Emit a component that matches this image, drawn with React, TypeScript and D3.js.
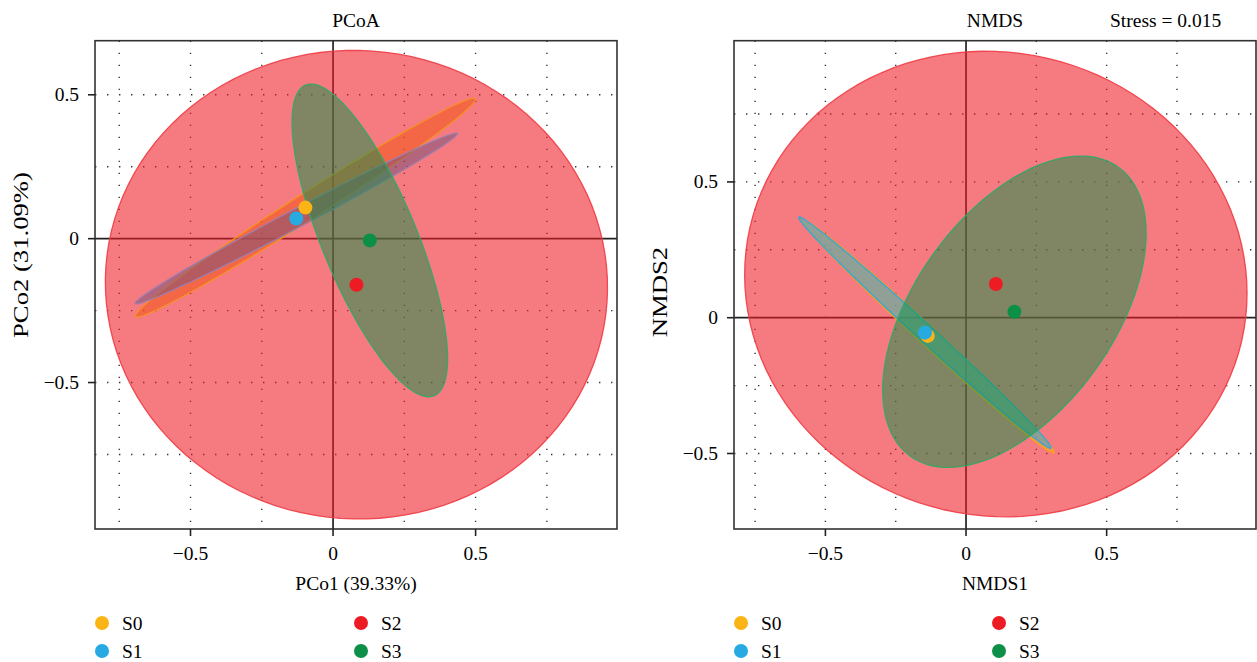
import React from "react";
import * as d3 from "d3";

const groups = ["S0", "S1", "S2", "S3"];
const pointColors = ["#fbb416", "#27aae1", "#ed1c24", "#0c9048"];

// PCoA centroids and ellipse shape (data units, angle in degrees)
const pcoaX = [-0.097, -0.129, 0.082, 0.129];
const pcoaY = [0.108, 0.07, -0.16, -0.006];
const pcoaSemiA = [0.706, 0.638, 0.881, 0.585];
const pcoaSemiB = [0.046, 0.032, 0.814, 0.166];
const pcoaAngle = [32.4, 27.6, -4, -67.3];

// NMDS
const nmdsX = [-0.136, -0.146, 0.106, 0.172];
const nmdsY = [-0.067, -0.055, 0.124, 0.022];
const nmdsSemiA = [0.622, 0.618, 0.9, 0.648];
const nmdsSemiB = [0.034, 0.03, 0.85, 0.358];
const nmdsAngle = [-43.8, -43.5, -22, 56];

const axisTicks = [-0.5, 0, 0.5];
const gridX = [-0.75, -0.5, -0.25, 0.25, 0.5, 0.75];
const pcoaGridY = [-0.75, -0.5, -0.25, 0.25, 0.5];
const nmdsGridY = [-0.5, -0.25, 0.25, 0.5, 0.75];

const pcoaFill = ["#f15a22", "#73507c", "#ed1c24", "#0c9048"];
const pcoaFillOpacity = [0.6, 0.5, 0.58, 0.5];
const pcoaStroke = ["#f7941d", "#9b7fb0", "#ef3b44", "#2fa866"];
const nmdsFill = ["#fbb416", "#27aae1", "#ed1c24", "#0c9048"];
const nmdsFillOpacity = [0.5, 0.5, 0.58, 0.5];
const nmdsStroke = ["#f7a21b", "#29a9e0", "#ef3b44", "#2fa866"];

const drawOrder = [2, 0, 1, 3];
const font = "'Liberation Serif', 'Times New Roman', serif";
const fmt = (v) => (v === 0 ? "0" : d3.format(".1f")(v));

const ellipsePoints = (cx, cy, a, b, deg) => {
  const phi = (deg * Math.PI) / 180;
  return d3.range(0, 360, 3).map((t) => {
    const r = (t * Math.PI) / 180;
    return [
      cx + a * Math.cos(r) * Math.cos(phi) - b * Math.sin(r) * Math.sin(phi),
      cy + a * Math.cos(r) * Math.sin(phi) + b * Math.sin(r) * Math.cos(phi),
    ];
  });
};

const Panel = ({ box, xDomain, yDomain, gridY, xs0, ys0, semiA, semiB, angle, fill, fillOpacity, stroke, title, xLabel, yLabel, yLabelPos }) => {
  const x = d3.scaleLinear().domain(xDomain).range([box.left, box.right]);
  const y = d3.scaleLinear().domain(yDomain).range([box.bottom, box.top]);
  const line = d3.line().x((d) => x(d[0])).y((d) => y(d[1])).curve(d3.curveLinearClosed);
  const cxm = (box.left + box.right) / 2;

  return (
    <g>
      <text x={cxm} y={27} textAnchor="middle" fontSize={19.5}>{title}</text>
      {/* grid and zero lines sit under the translucent ellipses */}
      {gridX.map((v) => (
        <line key={"gx" + v} x1={x(v)} x2={x(v)} y1={box.top} y2={box.bottom} stroke="#333" strokeWidth={1.4} strokeDasharray="1.4 10.6" />
      ))}
      {gridY.map((v) => (
        <line key={"gy" + v} y1={y(v)} y2={y(v)} x1={box.left} x2={box.right} stroke="#333" strokeWidth={1.4} strokeDasharray="1.4 10.6" />
      ))}
      <line x1={x(0)} x2={x(0)} y1={box.top} y2={box.bottom} stroke="#222" strokeWidth={1.7} />
      <line y1={y(0)} y2={y(0)} x1={box.left} x2={box.right} stroke="#222" strokeWidth={1.7} />
      {drawOrder.map((i) => (
        <path
          key={"e" + i}
          d={line(ellipsePoints(xs0[i], ys0[i], semiA[i], semiB[i], angle[i]))}
          fill={fill[i]}
          fillOpacity={fillOpacity[i]}
          stroke={stroke[i]}
          strokeWidth={1.3}
          strokeOpacity={0.9}
        />
      ))}
      {groups.map((g, i) => (
        <circle key={"p" + g} cx={x(xs0[i])} cy={y(ys0[i])} r={7} fill={pointColors[i]} />
      ))}
      <rect x={box.left} y={box.top} width={box.right - box.left} height={box.bottom - box.top} fill="none" stroke="#333" strokeWidth={1.6} />
      {axisTicks.map((v) => (
        <g key={"tx" + v}>
          <line x1={x(v)} x2={x(v)} y1={box.bottom} y2={box.bottom + 7} stroke="#222" strokeWidth={1.6} />
          <text x={x(v)} y={box.bottom + 31} textAnchor="middle" fontSize={19.5}>{fmt(v)}</text>
        </g>
      ))}
      {axisTicks.map((v) => (
        <g key={"ty" + v}>
          <line x1={box.left - 7} x2={box.left} y1={y(v)} y2={y(v)} stroke="#222" strokeWidth={1.6} />
          <text x={box.left - 16} y={y(v) + 6.5} textAnchor="end" fontSize={19.5}>{fmt(v)}</text>
        </g>
      ))}
      <text x={cxm} y={590} textAnchor="middle" fontSize={19.5}>{xLabel}</text>
      <text
        transform={`translate(${yLabelPos[0]},${yLabelPos[1]}) rotate(-90) scale(1.27,1)`}
        textAnchor="middle"
        fontSize={21}
      >
        {yLabel}
      </text>
    </g>
  );
};

const Legend = ({ x1, x2 }) => (
  <g>
    {groups.map((g, i) => {
      const lx = i < 2 ? x1 : x2;
      const ly = 623 + (i % 2) * 28;
      return (
        <g key={"l" + g}>
          <circle cx={lx} cy={ly} r={7} fill={pointColors[i]} />
          <text x={lx + 20} y={ly + 7} fontSize={19.5}>{g}</text>
        </g>
      );
    })}
  </g>
);

export default function App() {
  return (
    <div style={{ position: "fixed", left: 0, top: 0 }}>
      <svg width={1257} height={662} style={{ display: "block", background: "#fff", fontFamily: font }}>
        <Panel
          box={{ left: 95, right: 617, top: 40.7, bottom: 529 }}
          xDomain={[-0.835, 0.996]}
          yDomain={[-1.009, 0.688]}
          gridY={pcoaGridY}
          xs0={pcoaX}
          ys0={pcoaY}
          semiA={pcoaSemiA}
          semiB={pcoaSemiB}
          angle={pcoaAngle}
          fill={pcoaFill}
          fillOpacity={pcoaFillOpacity}
          stroke={pcoaStroke}
          title="PCoA"
          xLabel="PCo1 (39.33%)"
          yLabel="PCo2 (31.09%)"
          yLabelPos={[28, 255]}
        />
        <Panel
          box={{ left: 734, right: 1256, top: 40.7, bottom: 529 }}
          xDomain={[-0.825, 1.031]}
          yDomain={[-0.778, 1.02]}
          gridY={nmdsGridY}
          xs0={nmdsX}
          ys0={nmdsY}
          semiA={nmdsSemiA}
          semiB={nmdsSemiB}
          angle={nmdsAngle}
          fill={nmdsFill}
          fillOpacity={nmdsFillOpacity}
          stroke={nmdsStroke}
          title="NMDS"
          xLabel="NMDS1"
          yLabel="NMDS2"
          yLabelPos={[667, 292]}
        />
        <text x={1110} y={27} fontSize={19.5}>Stress = 0.015</text>
        <Legend x1={102} x2={361} />
        <Legend x1={741} x2={999} />
      </svg>
    </div>
  );
}
